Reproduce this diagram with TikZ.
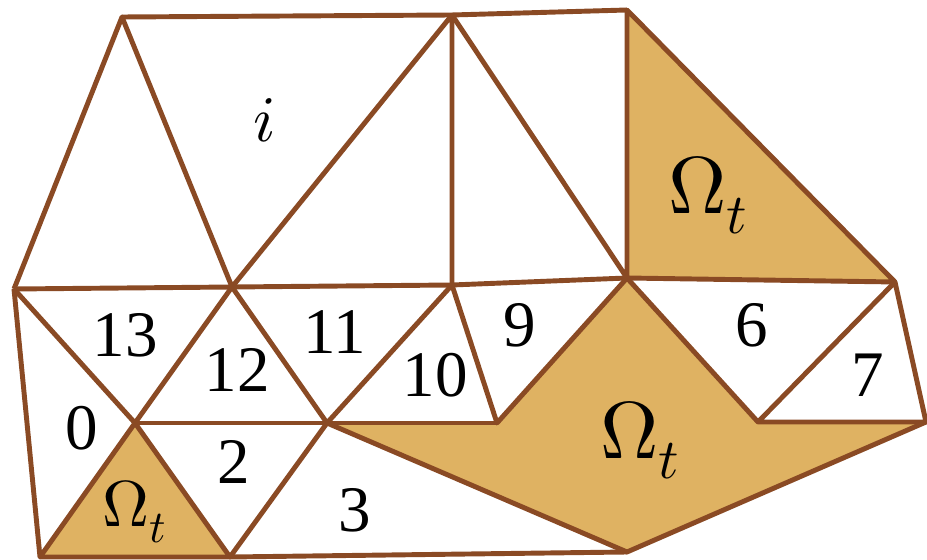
\documentclass[tikz,border=0pt]{standalone}
\usepackage{fontspec}
\usepackage{unicode-math}
\setmainfont{Liberation Serif}
\definecolor{meshbrown}{RGB}{138,74,36}
\definecolor{omegafill}{RGB}{223,178,98}
\tikzset{
  mesh/.style={draw=meshbrown, line width=2.8pt, line join=round},
  omega/.style={fill=omegafill},
  lbl/.style={font=\fontsize{37}{40}\selectfont, inner sep=0pt},
  biglbl/.style={font=\fontsize{46}{50}\selectfont, inner sep=0pt}
}
\begin{document}
\begin{tikzpicture}[x=0.02cm, y=-0.02cm]
    \useasboundingbox (0,0) rectangle (927,560);
    % vertices
    \coordinate (A) at (122,17);
    \coordinate (B) at (452,15);
    \coordinate (C) at (627,10);
    \coordinate (D) at (14,289);
    \coordinate (E) at (232,287);
    \coordinate (F) at (452,285);
    \coordinate (G) at (627,278);
    \coordinate (H) at (895,282);
    \coordinate (I) at (135,423);
    \coordinate (J) at (327,423);
    \coordinate (K) at (497,423);
    \coordinate (L) at (758,422);
    \coordinate (M) at (926,422);
    \coordinate (N) at (40,557);
    \coordinate (O) at (230,557);
    \coordinate (P) at (627,552);

    % shaded elements
    \fill[omega] (C) -- (G) -- (H) -- cycle;
    \fill[omega] (J) -- (K) -- (G) -- (L) -- (M) -- (P) -- cycle;
    \fill[omega] (N) -- (I) -- (O) -- cycle;

    % top row
    \draw[mesh] (A) -- (B) -- (C);
    \draw[mesh] (D) -- (A) -- (E) -- (B) -- (F);
    \draw[mesh] (B) -- (G) -- (C) -- (H) -- (G);
    \draw[mesh] (D) -- (E) -- (F) -- (G);

    % middle row
    \draw[mesh] (D) -- (I) -- (E) -- (J) -- (F) -- (K) -- (G) -- (L) -- (H) -- (M) -- (L);
    \draw[mesh] (I) -- (J) -- (K);

    % bottom row
    \draw[mesh] (D) -- (N) -- (I) -- (O) -- (J) -- (P) -- (M);
    \draw[mesh] (N) -- (O) -- (P);

    % labels
    \node[lbl] (li) at (265,120) {$i$};
    \node[biglbl] (wtop) at (708,195) {$\Omega_t$};
    \node[lbl] (l13) at (125,335) {13};
    \node[lbl] (l12) at (237,370) {12};
    \node[lbl] (l11) at (335,332) {11};
    \node[lbl] (l10) at (435,375) {10};
    \node[lbl] (l9) at (520,325) {9};
    \node[lbl] (l6) at (752,325) {6};
    \node[lbl] (l7) at (868,375) {7};
    \node[lbl] (l0) at (82,428) {0};
    \node[lbl] (l2) at (234,462) {2};
    \node[lbl] (l3) at (355,510) {3};
    \node[biglbl] (wmid) at (640,440) {$\Omega_t$};
    \node[lbl] (wbot) at (135,512) {$\Omega_t$};
\end{tikzpicture}
\end{document}
